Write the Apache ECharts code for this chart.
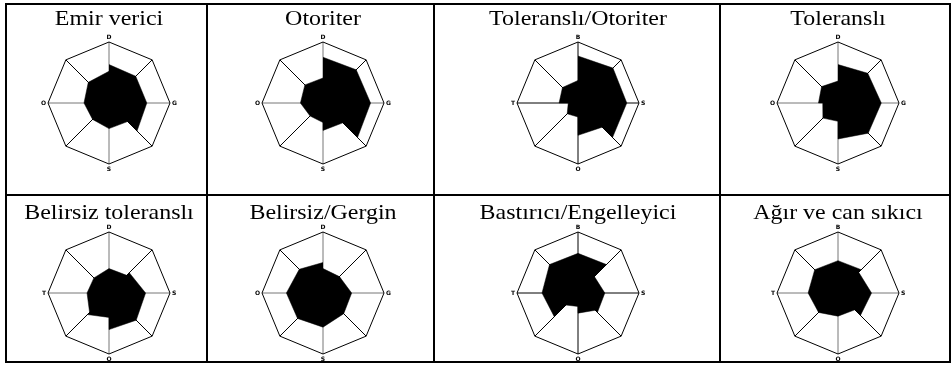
<!DOCTYPE html>
<html>
<head>
<meta charset="utf-8">
<script src="https://cdn.jsdelivr.net/npm/echarts@6/dist/echarts.min.js"></script>
<style>
html, body { margin: 0; padding: 0; background: #fff; }
#main { width: 952px; height: 366px; }
</style>
</head>
<body>
<div id="main"></div>
<script>
var myChart = echarts.init(document.getElementById('main'));

var titles = ['Emir verici', 'Otoriter', 'Toleranslı/Otoriter', 'Toleranslı',
    'Belirsiz toleranslı', 'Belirsiz/Gergin', 'Bastırıcı/Engelleyici', 'Ağır ve can sıkıcı'];

// axis letters: top, right, bottom, left
var axisLetters = [
    ['D', 'G', 'S', 'O'],
    ['D', 'G', 'S', 'O'],
    ['B', 'S', 'O', 'T'],
    ['D', 'G', 'S', 'O'],
    ['D', 'S', 'O', 'T'],
    ['D', 'G', 'S', 'O'],
    ['B', 'S', 'O', 'T'],
    ['B', 'S', 'O', 'T']
];

// 8 sectors clockwise from the top spoke, each [start, end] as share of the radius
var emirVerici = [0.63, 0.62, 0.62, 0.62, 0.62, 0.65, 0.43, 0.42, 0.42, 0.38, 0.38, 0.41, 0.42, 0.48, 0.48, 0.52];
var otoriter = [0.75, 0.77, 0.77, 0.78, 0.78, 0.80, 0.46, 0.45, 0.32, 0.30, 0.30, 0.37, 0.37, 0.42, 0.42, 0.41];
var tolOtoriter = [0.77, 0.81, 0.81, 0.80, 0.80, 0.80, 0.56, 0.53, 0.23, 0.25, 0.25, 0.16, 0.31, 0.36, 0.36, 0.37];
var toleransli = [0.63, 0.69, 0.69, 0.71, 0.71, 0.70, 0.68, 0.59, 0.30, 0.35, 0.33, 0.25, 0.32, 0.38, 0.36, 0.36];
var belirsizTol = [0.40, 0.41, 0.47, 0.60, 0.60, 0.63, 0.60, 0.60, 0.40, 0.50, 0.45, 0.36, 0.36, 0.35, 0.35, 0.40];
var belirsizGergin = [0.40, 0.38, 0.38, 0.47, 0.47, 0.48, 0.50, 0.56, 0.56, 0.59, 0.60, 0.60, 0.60, 0.55, 0.55, 0.50];
var bastirici = [0.65, 0.66, 0.38, 0.44, 0.44, 0.45, 0.40, 0.33, 0.22, 0.28, 0.55, 0.59, 0.59, 0.66, 0.66, 0.65];
var agir = [0.53, 0.54, 0.48, 0.55, 0.55, 0.52, 0.39, 0.38, 0.38, 0.45, 0.45, 0.49, 0.49, 0.54, 0.54, 0.53];
var shapes = [emirVerici, otoriter, tolOtoriter, toleransli, belirsizTol, belirsizGergin, bastirici, agir];

var colX = [109, 323, 578, 838];
var rowY = [103, 293];
var titleY = [9, 203];
var R = 61;

function toPolar(vals) {
    var res = [];
    for (var k = 0; k < 8; k++) {
        res.push([vals[2 * k], 45 * k]);
        res.push([vals[2 * k + 1], 45 * (k + 1)]);
    }
    return res;
}

var radars = [], polars = [], angleAxes = [], radiusAxes = [], series = [], texts = [];

for (var i = 0; i < 8; i++) {
    var cx = colX[i % 4], cy = rowY[Math.floor(i / 4)];
    var L = axisLetters[i];
    var darkSpokes = (i === 2 || i === 6);
    radars.push({
        center: [cx, cy],
        radius: R,
        shape: 'polygon',
        splitNumber: 1,
        startAngle: 90,
        indicator: [
            { name: L[0], max: 1 }, { name: '', max: 1 },
            { name: L[3], max: 1 }, { name: '', max: 1 },
            { name: L[2], max: 1 }, { name: '', max: 1 },
            { name: L[1], max: 1 }, { name: '', max: 1 }
        ],
        nameGap: 2,
        axisName: { color: '#000', fontSize: 6, fontWeight: 'bold', fontFamily: 'DejaVu Sans' },
        axisLine: { show: false },
        axisTick: { show: false },
        axisLabel: { show: false },
        splitArea: { show: false },
        splitLine: { lineStyle: { color: '#000', width: 1 } }
    });
    polars.push({ center: [cx, cy], radius: R });
    angleAxes.push({
        polarIndex: i,
        type: 'value',
        min: 0,
        max: 360,
        interval: 45,
        startAngle: 90,
        clockwise: true,
        axisLine: { show: false },
        axisTick: { show: false },
        axisLabel: { show: false },
        splitLine: { show: true, lineStyle: { color: darkSpokes ? ['#000'] : ['#777', '#000'], width: 1 } }
    });
    radiusAxes.push({
        polarIndex: i,
        type: 'value',
        min: 0,
        max: 1,
        show: false,
        splitLine: { show: false }
    });
    series.push({
        type: 'line',
        coordinateSystem: 'polar',
        polarIndex: i,
        data: toPolar(shapes[i]),
        symbol: 'none',
        silent: true,
        lineStyle: { color: '#000', width: 0.5 },
        areaStyle: { color: '#000', opacity: 1 }
    });
    texts.push({
        type: 'text',
        x: cx,
        y: titleY[Math.floor(i / 4)],
        scaleX: 1.14,
        style: {
            text: titles[i],
            fill: '#000',
            font: '21px "Liberation Serif"',
            textAlign: 'center',
            textVerticalAlign: 'top'
        }
    });
}

// table rules
var rules = [
    { type: 'rect', shape: { x: 6, y: 4, width: 944, height: 358 }, style: { fill: 'none', stroke: '#000', lineWidth: 2 } },
    { type: 'line', shape: { x1: 207, y1: 4, x2: 207, y2: 362 }, style: { stroke: '#000', lineWidth: 2 } },
    { type: 'line', shape: { x1: 434, y1: 4, x2: 434, y2: 362 }, style: { stroke: '#000', lineWidth: 2 } },
    { type: 'line', shape: { x1: 720, y1: 4, x2: 720, y2: 362 }, style: { stroke: '#000', lineWidth: 2 } },
    { type: 'line', shape: { x1: 6, y1: 195, x2: 950, y2: 195 }, style: { stroke: '#000', lineWidth: 2 } }
];

option = {
    animation: false,
    backgroundColor: '#fff',
    radar: radars,
    polar: polars,
    angleAxis: angleAxes,
    radiusAxis: radiusAxes,
    series: series,
    graphic: rules.concat(texts)
};

myChart.setOption(option);
</script>
</body>
</html>
